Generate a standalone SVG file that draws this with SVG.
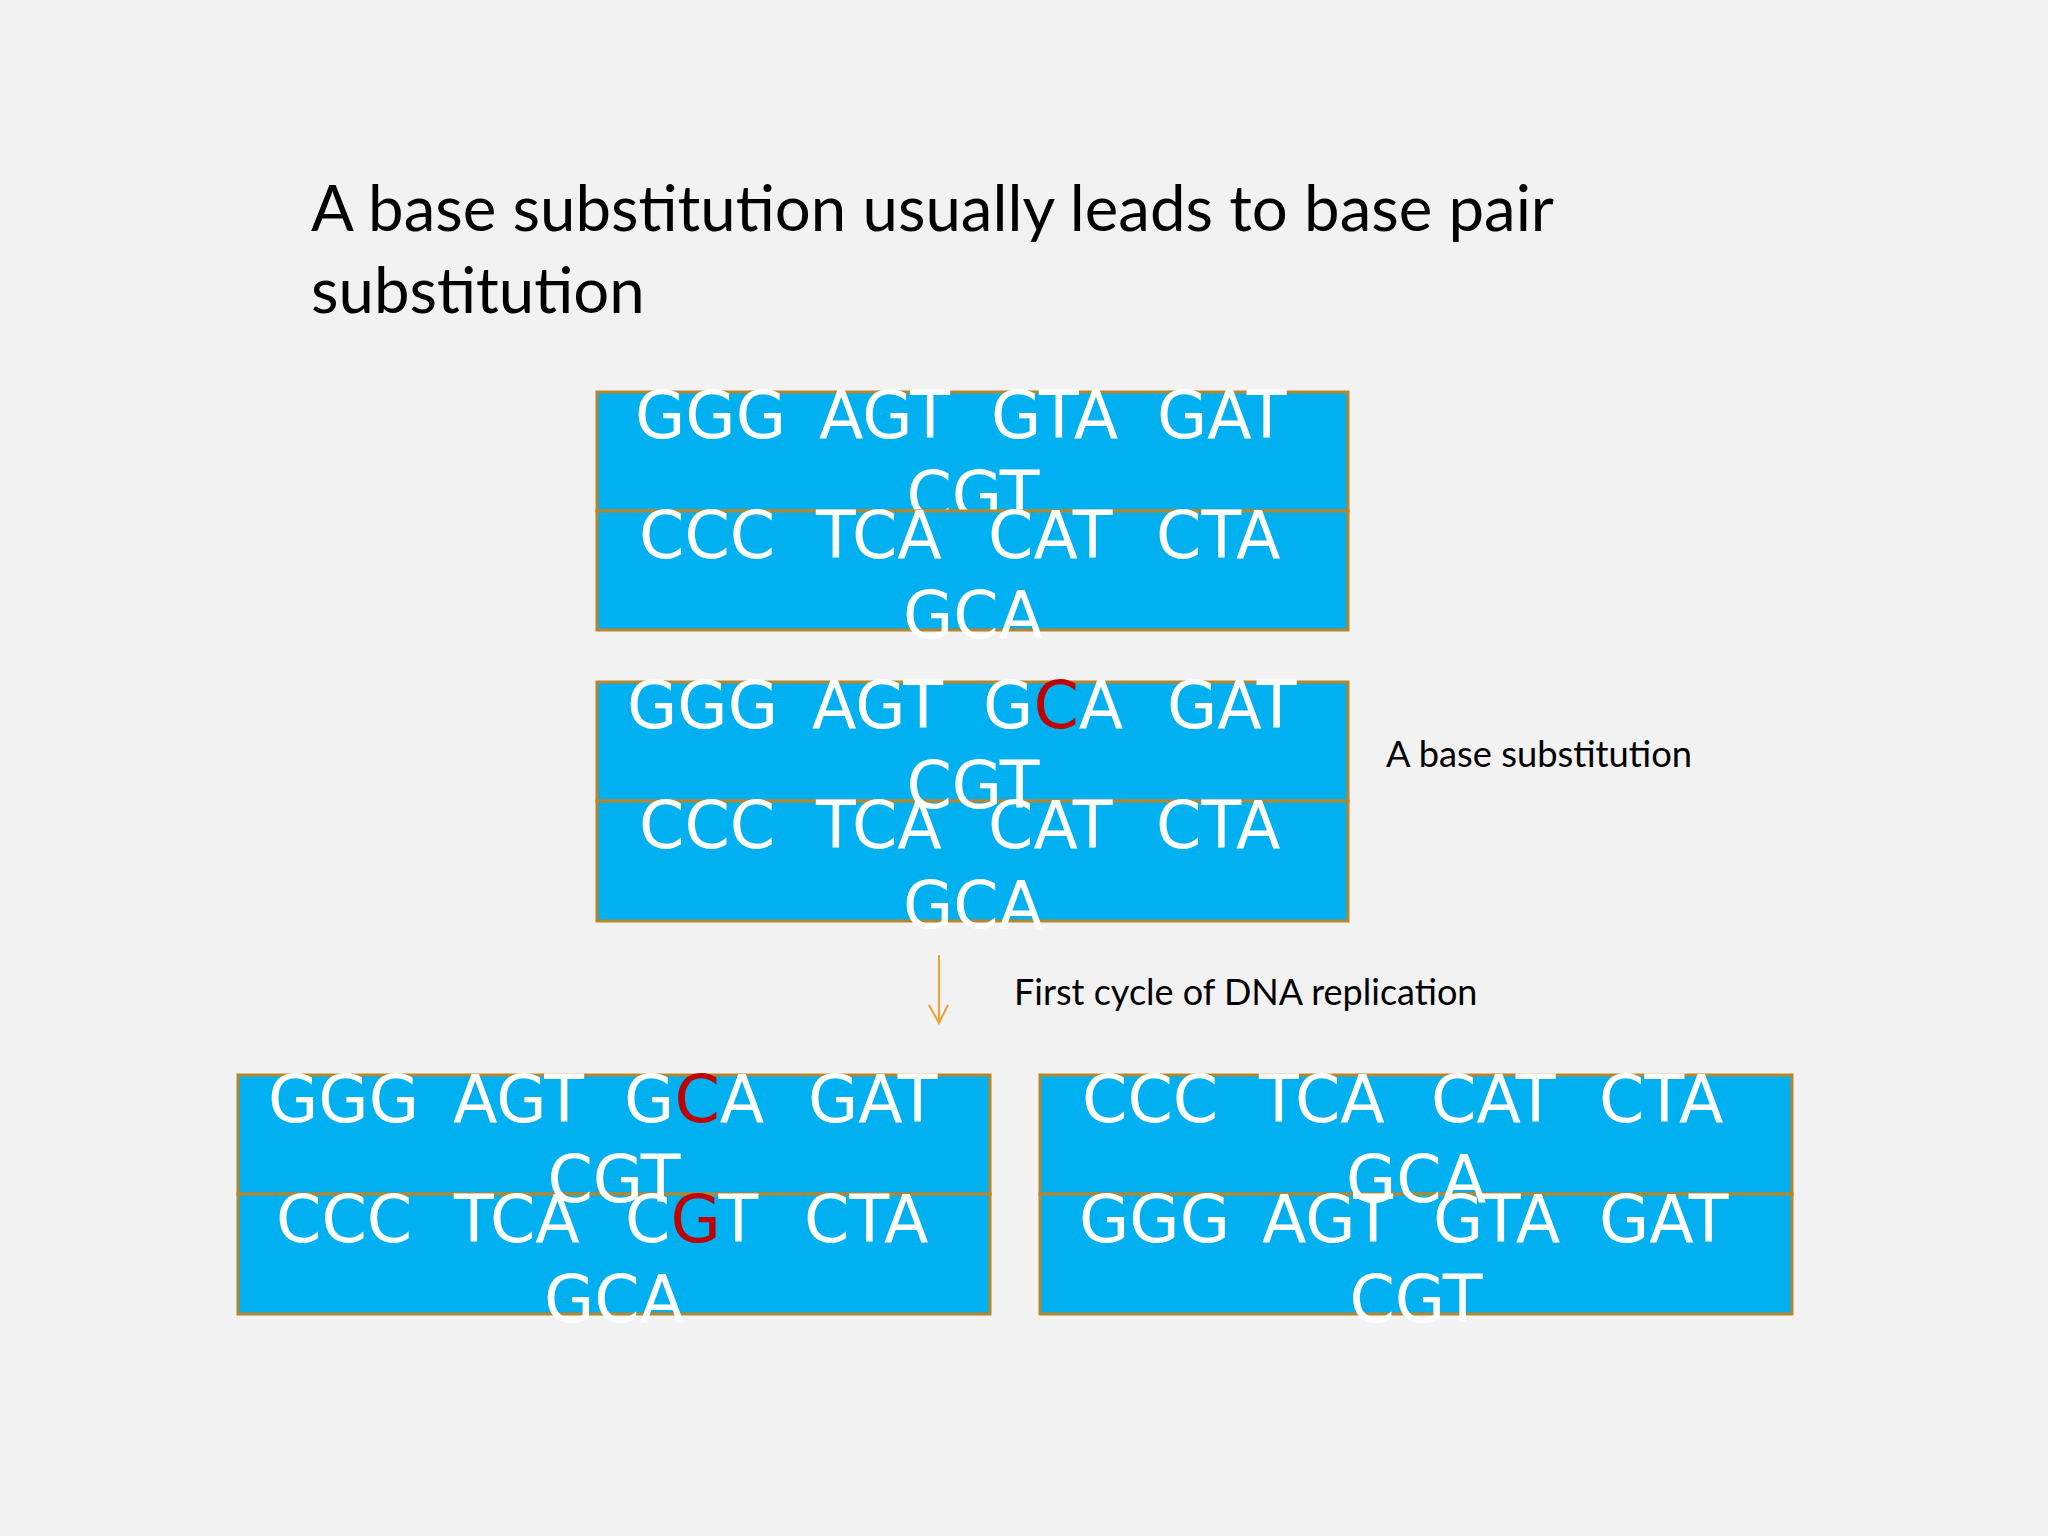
<svg xmlns="http://www.w3.org/2000/svg" width="2048" height="1536" viewBox="0 0 2048 1536">
<defs>
<style>
.bg{fill:#f2f2f2}
.box{fill:#00b0f0;stroke:#b8862a;stroke-width:3}
.seq{font-family:"DejaVu Sans",sans-serif;font-size:65px;fill:#ffffff}
.mid{text-anchor:middle}
.red{fill:#c00000}
.title{font-family:Lato,"Liberation Sans",sans-serif;font-size:63.5px;fill:#000000}
.label{font-family:Lato,"Liberation Sans",sans-serif;font-size:36.3px;fill:#000000}
.conn{stroke:#f0a030;stroke-width:2;fill:none}
</style>
</defs>
<rect class="bg" x="0" y="0" width="2048" height="1536"/>
<g id="title">
<text class="title" x="311" y="231">A base substitution usually leads to base pair</text>
<text class="title" x="311" y="313">substitution</text>
</g>
<g id="dna-original">
<rect class="box" x="597" y="392" width="751" height="119"/>
<text class="seq" y="438"><tspan x="635">GGG</tspan><tspan x="819">AGT</tspan><tspan x="991">GTA</tspan><tspan x="1157">GAT</tspan></text>
<text class="seq mid" x="973" y="518">CGT</text>
<rect class="box" x="597" y="511" width="751" height="119"/>
<text class="seq" y="558"><tspan x="639">CCC</tspan><tspan x="816">TCA</tspan><tspan x="988">CAT</tspan><tspan x="1156">CTA</tspan></text>
<text class="seq mid" x="973" y="638">GCA</text>
</g>
<g id="dna-substituted">
<rect class="box" x="597" y="682" width="751" height="119"/>
<rect class="box" x="597" y="801" width="751" height="120"/>
<text class="seq" y="728"><tspan x="627">GGG</tspan><tspan x="812">AGT</tspan><tspan x="983">G<tspan class="red">C</tspan>A</tspan><tspan x="1167">GAT</tspan></text>
<text class="seq mid" x="973" y="808">CGT</text>
<text class="seq" y="848"><tspan x="639">CCC</tspan><tspan x="816">TCA</tspan><tspan x="988">CAT</tspan><tspan x="1156">CTA</tspan></text>
<text class="seq mid" x="973" y="928">GCA</text>
</g>
<g id="label-substitution">
<text class="label" x="1386" y="767">A base substitution</text>
</g>
<g id="connectors">
<line class="conn" x1="939" y1="955" x2="939" y2="1023"/>
<polyline class="conn" points="929,1005 939,1023 948,1005"/>
</g>
<g id="label-replication">
<text class="label" x="1014" y="1005" style="font-size:36px">First cycle of DNA replication</text>
</g>
<g id="dna-daughter-1">
<rect class="box" x="238" y="1075" width="752" height="119"/>
<rect class="box" x="238" y="1194" width="752" height="120"/>
<text class="seq" y="1122"><tspan x="268">GGG</tspan><tspan x="453">AGT</tspan><tspan x="624">G<tspan class="red">C</tspan>A</tspan><tspan x="808">GAT</tspan></text>
<text class="seq mid" x="614" y="1202">CGT</text>
<text class="seq" y="1242"><tspan x="276">CCC</tspan><tspan x="454">TCA</tspan><tspan x="625">C<tspan class="red">G</tspan>T</tspan><tspan x="804">CTA</tspan></text>
<text class="seq mid" x="614" y="1322">GCA</text>
</g>
<g id="dna-daughter-2">
<rect class="box" x="1040" y="1075" width="752" height="119"/>
<rect class="box" x="1040" y="1194" width="752" height="120"/>
<text class="seq" y="1122"><tspan x="1082">CCC</tspan><tspan x="1259">TCA</tspan><tspan x="1431">CAT</tspan><tspan x="1599">CTA</tspan></text>
<text class="seq mid" x="1416" y="1202">GCA</text>
<text class="seq" y="1242"><tspan x="1079">GGG</tspan><tspan x="1262">AGT</tspan><tspan x="1433">GTA</tspan><tspan x="1599">GAT</tspan></text>
<text class="seq mid" x="1416" y="1322">CGT</text>
</g>
</svg>
